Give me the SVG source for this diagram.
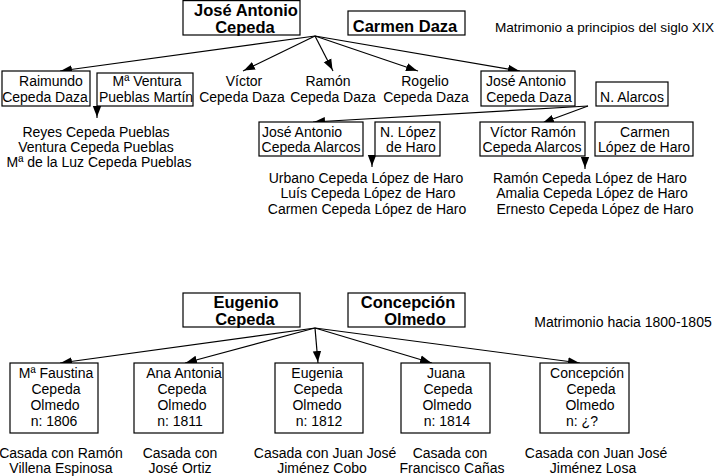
<svg xmlns="http://www.w3.org/2000/svg" width="718" height="476" viewBox="0 0 718 476">
<style>
text{font-family:"Liberation Sans",Arial,sans-serif;font-size:14px;fill:#000;text-anchor:middle}
.b{font-weight:bold;font-size:16.5px}
.n{fill:#fff;stroke:#000;stroke-width:1.2}
.c line{stroke:#000;stroke-width:1.2;marker-end:url(#ah)}
</style>
<defs>
<marker id="ah" markerUnits="userSpaceOnUse" markerWidth="12" markerHeight="10" viewBox="0 0 12 10" refX="12" refY="5" orient="auto">
<path d="M0,0.8 L11,5 L0,9.2 Z" fill="#000"/>
</marker>
</defs>
<rect width="718" height="476" fill="#fff"/>

<g class="c" id="connectors">
<line x1="315" y1="36" x2="60" y2="71"/>
<line x1="315" y1="36" x2="243" y2="71"/>
<line x1="315" y1="36" x2="333" y2="71"/>
<line x1="315" y1="36" x2="418" y2="71"/>
<line x1="315" y1="36" x2="520" y2="71"/>
<line x1="97" y1="106" x2="97" y2="118"/>
<line x1="588" y1="106" x2="313" y2="122"/>
<line x1="588" y1="106" x2="542" y2="123"/>
<line x1="372" y1="157" x2="372" y2="167"/>
<line x1="585" y1="157" x2="585" y2="169"/>
<line x1="315" y1="328" x2="60" y2="363"/>
<line x1="315" y1="328" x2="185" y2="363"/>
<line x1="315" y1="328" x2="318" y2="363"/>
<line x1="315" y1="328" x2="432" y2="363"/>
<line x1="315" y1="328" x2="580" y2="363"/>
</g>

<g id="jose-antonio-cepeda"><rect class="n" x="183" y="0.6" width="117" height="34.4"/><text class="b" x="246" y="16">José Antonio</text><text class="b" x="245" y="33">Cepeda</text></g>
<g id="carmen-daza"><rect class="n" x="348" y="11" width="117" height="24"/><text class="b" x="405" y="32">Carmen Daza</text></g>
<g id="note-top"><text x="714" y="32" style="text-anchor:end;font-size:13.6px">Matrimonio a principios del siglo XIX</text></g>

<g id="raimundo"><rect class="n" x="2" y="71" width="88" height="35"/><text x="51" y="86">Raimundo</text><text x="45" y="102">Cepeda Daza</text></g>
<g id="ventura"><rect class="n" x="97" y="73" width="96" height="33"/><text x="147" y="86">Mª Ventura</text><text x="146" y="102">Pueblas Martín</text></g>
<g id="victor"><text x="244" y="86">Víctor</text><text x="242" y="102">Cepeda Daza</text></g>
<g id="ramon"><text x="328" y="86">Ramón</text><text x="333" y="102">Cepeda Daza</text></g>
<g id="rogelio"><text x="425" y="86">Rogelio</text><text x="426" y="102">Cepeda Daza</text></g>
<g id="jose-antonio-daza"><rect class="n" x="481" y="71" width="94" height="35"/><text x="526" y="86">José Antonio</text><text x="529" y="102">Cepeda Daza</text></g>
<g id="n-alarcos"><rect class="n" x="596" y="82" width="72" height="24"/><text x="632" y="102">N. Alarcos</text></g>

<g id="hijos-ventura"><text x="96" y="137">Reyes Cepeda Pueblas</text><text x="96" y="152">Ventura Cepeda Pueblas</text><text x="99" y="167">Mª de la Luz Cepeda Pueblas</text></g>

<g id="jose-antonio-alarcos"><rect class="n" x="259" y="122" width="104" height="34"/><text x="302" y="137">José Antonio</text><text x="311" y="152">Cepeda Alarcos</text></g>
<g id="n-lopez"><rect class="n" x="375" y="122" width="65" height="34"/><text x="408" y="137">N. López</text><text x="411" y="152">de Haro</text></g>
<g id="victor-ramon"><rect class="n" x="480" y="122" width="105" height="34"/><text x="533" y="137">Víctor Ramón</text><text x="532" y="152">Cepeda Alarcos</text></g>
<g id="carmen-lopez"><rect class="n" x="595" y="122" width="98" height="34"/><text x="645" y="137">Carmen</text><text x="644" y="152">López de Haro</text></g>

<g id="hijos-jose-antonio"><text x="366" y="183">Urbano Cepeda López de Haro</text><text x="368" y="198">Luís Cepeda López de Haro</text><text x="367" y="214">Carmen Cepeda López de Haro</text></g>
<g id="hijos-victor-ramon"><text x="590" y="183">Ramón Cepeda López de Haro</text><text x="592" y="198">Amalia Cepeda López de Haro</text><text x="595" y="214">Ernesto Cepeda López de Haro</text></g>

<g id="eugenio-cepeda"><rect class="n" x="183" y="293" width="117" height="34"/><text class="b" x="246" y="308">Eugenio</text><text class="b" x="245" y="325">Cepeda</text></g>
<g id="concepcion-olmedo"><rect class="n" x="348" y="293" width="117" height="34"/><text class="b" x="408" y="308">Concepción</text><text class="b" x="415" y="325">Olmedo</text></g>
<g id="note-bottom"><text x="623" y="327">Matrimonio hacia 1800-1805</text></g>

<g id="faustina"><rect class="n" x="10" y="363" width="88" height="70"/><text x="56" y="378">Mª Faustina</text><text x="56" y="394">Cepeda</text><text x="55" y="410">Olmedo</text><text x="54" y="426">n: 1806</text></g>
<g id="ana-antonia"><rect class="n" x="134" y="363" width="89" height="70"/><text x="184" y="378">Ana Antonia</text><text x="182" y="394">Cepeda</text><text x="182" y="410">Olmedo</text><text x="180" y="426">n: 1811</text></g>
<g id="eugenia"><rect class="n" x="275" y="363" width="88" height="70"/><text x="317" y="378">Eugenia</text><text x="318" y="394">Cepeda</text><text x="317" y="410">Olmedo</text><text x="319" y="426">n: 1812</text></g>
<g id="juana"><rect class="n" x="401" y="363" width="89" height="70"/><text x="446" y="378">Juana</text><text x="448" y="394">Cepeda</text><text x="447" y="410">Olmedo</text><text x="447" y="426">n: 1814</text></g>
<g id="concepcion"><rect class="n" x="540" y="363" width="89" height="70"/><text x="587" y="378">Concepción</text><text x="591" y="394">Cepeda</text><text x="590" y="410">Olmedo</text><text x="582" y="426">n: ¿?</text></g>

<g id="casadas">
<text x="61" y="458">Casada con Ramón</text><text x="61" y="473">Villena Espinosa</text>
<text x="180" y="458">Casada con</text><text x="180" y="473">José Ortiz</text>
<text x="325" y="458">Casada con Juan José</text><text x="322" y="473">Jiménez Cobo</text>
<text x="450" y="458">Casada con</text><text x="452" y="473">Francisco Cañas</text>
<text x="596" y="458">Casada con Juan José</text><text x="593" y="473">Jiménez Losa</text>
</g>
</svg>
